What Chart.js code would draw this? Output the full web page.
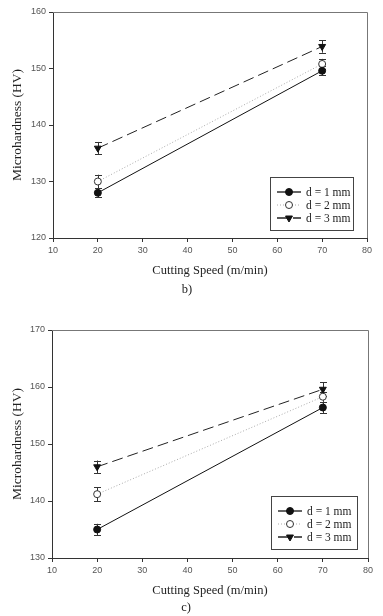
<!DOCTYPE html>
<html>
<head>
<meta charset="utf-8">
<script src="https://cdn.jsdelivr.net/npm/chart.js@4.4.1/dist/chart.umd.min.js"></script>
<style>
  html, body { margin: 0; padding: 0; background: #fff; }
  #wrap { position: relative; width: 383px; height: 616px; overflow: hidden; }
  #c1 { position: absolute; left: 0; top: 0; }
  #c2 { position: absolute; left: 0; top: 300px; }
</style>
</head>
<body>
<div id="wrap">
  <canvas id="c1" width="383" height="300"></canvas>
  <canvas id="c2" width="383" height="316"></canvas>
</div>
<script>
// ---- Data ----
const speeds = [20, 70];
const seriesLabels = ['d = 1 mm', 'd = 2 mm', 'd = 3 mm'];

// Panel b)
const b_d1 = [128.0, 149.6];
const b_d2 = [130.0, 150.8];
const b_d3 = [135.9, 153.9];
const b_err_d1 = [0.8, 0.8];
const b_err_d2 = [1.2, 0.9];
const b_err_d3 = [1.1, 1.1];
const b_yTicks = [120, 130, 140, 150, 160];

// Panel c)
const c_d1 = [135.0, 156.4];
const c_d2 = [141.2, 158.3];
const c_d3 = [146.0, 159.6];
const c_err_d1 = [1.0, 1.0];
const c_err_d2 = [1.2, 0.9];
const c_err_d3 = [1.1, 1.2];
const c_yTicks = [130, 140, 150, 160, 170];

const xTicks = [10, 20, 30, 40, 50, 60, 70, 80];

const styles = [
  { color: '#111', dash: [], pointStyle: 'circle', fill: '#111', rot: 0, border: '#111' },
  { color: '#aaa', dash: [1, 2], pointStyle: 'circle', fill: '#fff', rot: 0, border: '#333' },
  { color: '#222', dash: [11, 5], pointStyle: 'triangle', fill: '#111', rot: 180, border: '#111' }
];

function makeDatasets(series, errs) {
  return series.map((vals, i) => ({
    label: seriesLabels[i],
    data: speeds.map((x, j) => ({ x: x, y: vals[j] })),
    errors: errs[i],
    borderColor: styles[i].color,
    borderDash: styles[i].dash,
    borderWidth: 1,
    pointStyle: styles[i].pointStyle,
    pointRotation: styles[i].rot,
    pointRadius: styles[i].pointStyle === 'triangle' ? 4 : 3.5,
    pointBackgroundColor: styles[i].fill,
    pointBorderColor: styles[i].border,
    pointBorderWidth: 1,
    tension: 0
  }));
}

const errorBarPlugin = {
  id: 'errorBars',
  beforeDatasetsDraw(chart) {
    const ctx = chart.ctx;
    const ys = chart.scales.y, xs = chart.scales.x;
    ctx.save();
    ctx.strokeStyle = '#333';
    ctx.lineWidth = 1;
    ctx.setLineDash([]);
    chart.data.datasets.forEach(ds => {
      ds.data.forEach((p, j) => {
        const e = ds.errors[j];
        const px = Math.round(xs.getPixelForValue(p.x)) + 0.5;
        const top = ys.getPixelForValue(p.y + e);
        const bot = ys.getPixelForValue(p.y - e);
        ctx.beginPath();
        ctx.moveTo(px, top); ctx.lineTo(px, bot);
        ctx.moveTo(px - 3.5, Math.round(top) + 0.5); ctx.lineTo(px + 3.5, Math.round(top) + 0.5);
        ctx.moveTo(px - 3.5, Math.round(bot) + 0.5); ctx.lineTo(px + 3.5, Math.round(bot) + 0.5);
        ctx.stroke();
      });
    });
    ctx.restore();
  }
};

const decorPlugin = {
  id: 'decor',
  afterDraw(chart, args, opts) {
    const ctx = chart.ctx;
    const a = chart.chartArea;
    ctx.save();
    // frame top & right
    ctx.strokeStyle = '#777';
    ctx.lineWidth = 1;
    ctx.beginPath();
    ctx.moveTo(a.left, a.top + 0.5); ctx.lineTo(a.right + 0.5, a.top + 0.5);
    ctx.lineTo(a.right + 0.5, a.bottom);
    ctx.stroke();

    // axis titles
    ctx.fillStyle = '#222';
    ctx.font = '12.5px "Liberation Serif"';
    ctx.textAlign = 'center';
    ctx.textBaseline = 'middle';
    ctx.fillText('Cutting Speed (m/min)', (a.left + a.right) / 2, opts.xTitleY);
    ctx.fillText(opts.panel, opts.panelX, opts.panelY);
    ctx.save();
    ctx.font = '13.5px "Liberation Serif"';
    ctx.translate(17, (a.top + a.bottom) / 2);
    ctx.rotate(-Math.PI / 2);
    ctx.fillText('Microhardness (HV)', 0, 0);
    ctx.restore();

    // legend
    const w = opts.legW, h = 53;
    const lx = a.right - opts.legRight - w, ly = a.bottom - opts.legBottom - h;
    ctx.fillStyle = '#fff';
    ctx.fillRect(lx, ly, w, h);
    ctx.strokeStyle = '#444';
    ctx.strokeRect(Math.round(lx) + 0.5, Math.round(ly) + 0.5, w, h);
    chart.data.datasets.forEach((ds, i) => {
      const ry = ly + 15 + i * 13;
      ctx.strokeStyle = ds.borderColor;
      ctx.setLineDash(ds.borderDash);
      ctx.lineWidth = i === 1 ? 1 : 1.3;
      ctx.beginPath();
      ctx.moveTo(lx + 7, ry); ctx.lineTo(lx + 31, ry);
      ctx.stroke();
      ctx.setLineDash([]);
      ctx.lineWidth = 1;
      ctx.fillStyle = ds.pointBackgroundColor;
      ctx.strokeStyle = ds.pointBorderColor;
      Chart.helpers.drawPoint(ctx, { pointStyle: ds.pointStyle, rotation: ds.pointRotation, radius: ds.pointRadius, borderWidth: 1 }, lx + 19, ry);
      ctx.fillStyle = '#222';
      ctx.font = '11.5px "Liberation Serif"';
      ctx.textAlign = 'left';
      ctx.fillText(ds.label, lx + 36, ry + 0.5);
    });
    ctx.restore();
  }
};

function makeChart(canvasId, datasets, yTicks, cfg) {
  return new Chart(document.getElementById(canvasId), {
    type: 'line',
    data: { datasets: datasets },
    options: {
      responsive: false,
      animation: false,
      layout: { padding: { left: 0, top: cfg.padTop, right: cfg.padRight, bottom: 0 } },
      plugins: {
        legend: { display: false },
        tooltip: { enabled: false },
        decor: cfg.decor
      },
      scales: {
        x: {
          type: 'linear',
          min: xTicks[0], max: xTicks[xTicks.length - 1],
          afterBuildTicks: s => { s.ticks = xTicks.map(v => ({ value: v })); },
          afterFit: s => { s.height = cfg.xHeight; },
          grid: { display: true, drawOnChartArea: false, drawTicks: true, tickLength: 4, color: '#333' },
          border: { display: true, color: '#333', width: 1 },
          ticks: { color: '#555', font: { family: '"Liberation Sans"', size: 9 }, padding: 3, maxRotation: 0 }
        },
        y: {
          type: 'linear',
          min: yTicks[0], max: yTicks[yTicks.length - 1],
          afterBuildTicks: s => { s.ticks = yTicks.map(v => ({ value: v })); },
          afterFit: s => { s.width = cfg.yWidth; },
          grid: { display: true, drawOnChartArea: false, drawTicks: true, tickLength: 4, color: '#333' },
          border: { display: true, color: '#333', width: 1 },
          ticks: { color: '#555', font: { family: '"Liberation Sans"', size: 9 }, padding: 3 }
        }
      }
    },
    plugins: [errorBarPlugin, decorPlugin]
  });
}

makeChart('c1',
  makeDatasets([b_d1, b_d2, b_d3], [b_err_d1, b_err_d2, b_err_d3]),
  b_yTicks,
  { padTop: 12, padRight: 16, xHeight: 62, yWidth: 53,
    decor: { xTitleY: 271, panel: 'b)', panelX: 187, panelY: 290, legW: 83, legRight: 14, legBottom: 8 } });

makeChart('c2',
  makeDatasets([c_d1, c_d2, c_d3], [c_err_d1, c_err_d2, c_err_d3]),
  c_yTicks,
  { padTop: 30, padRight: 15, xHeight: 58, yWidth: 52,
    decor: { xTitleY: 291, panel: 'c)', panelX: 186, panelY: 308, legW: 86, legRight: 11, legBottom: 9 } });
</script>
</body>
</html>
